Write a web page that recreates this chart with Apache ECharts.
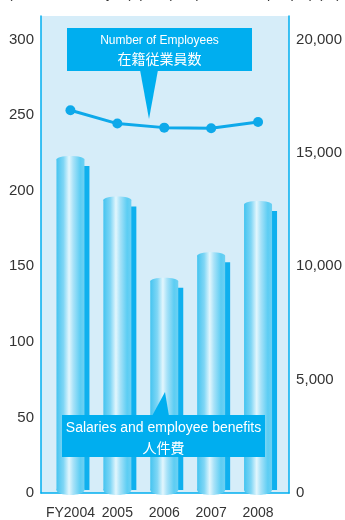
<!DOCTYPE html>
<html><head><meta charset="utf-8">
<script src="https://cdn.jsdelivr.net/npm/echarts@6/dist/echarts.min.js"></script>
<style>html,body{margin:0;padding:0;background:#fff}#c{width:345px;height:520px}</style>
</head><body><div id="c"></div>
<script>
const categories = ['FY2004', '2005', '2006', '2007', '2008'];
const salaries = [220, 193, 139, 156, 190];          // left axis (億円)
const employees = [16850, 16260, 16080, 16050, 16330]; // right axis (人)
const leftTicks = [0, 50, 100, 150, 200, 250, 300];
const rightTicks = [0, 5000, 10000, 15000, 20000];

const LMAX = 315.5, RMAX = LMAX / 300 * 20000;
const blue = '#00aeef';
const sans = '"Liberation Sans",Arial,sans-serif';
const cjk = '"Noto Sans CJK JP",sans-serif';
const fmtNum = v => String(v).replace(/\B(?=(\d{3})+(?!\d))/g, ',');

const chart = echarts.init(document.getElementById('c'), null, {renderer: 'canvas'});
const bodyGrad = new echarts.graphic.LinearGradient(0, 0, 1, 0, [
  {offset: 0, color: '#45c4f0'},
  {offset: 0.25, color: '#7fd6f5'},
  {offset: 0.45, color: '#e2f6fd'},
  {offset: 0.6, color: '#a8e2f8'},
  {offset: 0.85, color: '#5ccdf3'},
  {offset: 1, color: '#6dd1f3'}
]);

chart.setOption({
  animation: false,
  grid: [
    {left: 41, right: 53, top: 16, bottom: 27, show: true, backgroundColor: '#d6edf9', borderWidth: 0, borderColor: 'transparent'},
    {left: 47, right: 63.5, top: 16, bottom: 27}
  ],
  xAxis: [
    {gridIndex: 0, type: 'value', min: 0, max: 1, axisLine: {show: true, lineStyle: {color: blue, width: 1.5}}, axisTick: {show: false}, axisLabel: {show: false}, splitLine: {show: false}},
    {gridIndex: 1, type: 'category', data: categories, axisLine: {show: false}, axisTick: {show: false},
     axisLabel: {interval: 0, hideOverlap: false, margin: 16, color: '#333', fontSize: 14, fontFamily: sans}}
  ],
  yAxis: [
    {gridIndex: 0, type: 'value', min: 0, max: LMAX, interval: 50, position: 'left',
     axisLine: {show: true, lineStyle: {color: blue, width: 1.5}}, axisTick: {show: false}, splitLine: {show: false},
     axisLabel: {margin: 7, padding: [3, 0, 0, 0], color: '#333', fontSize: 15, fontFamily: sans, formatter: v => leftTicks.includes(v) ? String(v) : ''}},
    {gridIndex: 0, type: 'value', min: 0, max: RMAX, interval: 5000, position: 'right',
     axisLine: {show: true, lineStyle: {color: blue, width: 1.5}}, axisTick: {show: false}, splitLine: {show: false},
     axisLabel: {margin: 7, padding: [3, 0, 0, 0], color: '#333', fontSize: 15, fontFamily: sans, formatter: v => rightTicks.includes(v) ? fmtNum(v) : ''}},
    {gridIndex: 1, type: 'value', min: 0, max: LMAX, show: false},
    {gridIndex: 1, type: 'value', min: 0, max: RMAX, show: false}
  ],
  series: [
    {
      type: 'custom', xAxisIndex: 1, yAxisIndex: 2, z: 5,
      data: salaries.map((v, i) => [i, v]),
      renderItem: (params, api) => {
        const top = api.coord([api.value(0), api.value(1)]);
        const base = api.coord([api.value(0), 0]);
        const cx = top[0], ty = top[1], by = base[1];
        const hw = 14, ry = 3.5;
        return {type: 'group', children: [
          {type: 'rect', shape: {x: cx - hw + 5, y: ty - ry + 10, width: 2 * hw, height: by - (ty - ry + 10)}, style: {fill: '#0fb0ee'}},
          {type: 'rect', shape: {x: cx - hw, y: ty, width: 2 * hw, height: by - ty}, style: {fill: bodyGrad}},
          {type: 'ellipse', shape: {cx: cx, cy: by, rx: hw, ry: 5}, style: {fill: bodyGrad}},
          {type: 'ellipse', shape: {cx: cx, cy: ty, rx: hw, ry: ry}, style: {fill: bodyGrad}}
        ]};
      }
    },
    {
      type: 'line', xAxisIndex: 1, yAxisIndex: 3, z: 6, data: employees,
      symbol: 'circle', symbolSize: 10,
      lineStyle: {color: '#0ea9ea', width: 3}, itemStyle: {color: '#0ea9ea'}
    }
  ],
  graphic: [
    {type: 'text', left: 8, top: -13, style: {text: '(100 millions of yen) (億円)', fill: '#333', font: '14px ' + sans}},
    {type: 'text', right: 4, top: -13, style: {text: '(Number of people) (人)', fill: '#333', font: '14px ' + sans}},
    {type: 'polygon', z: 10, shape: {points: [[140, 70], [158, 70], [149, 119]]}, style: {fill: blue}},
    {type: 'rect', z: 10, shape: {x: 67, y: 28, width: 185, height: 43}, style: {fill: blue}},
    {type: 'text', z: 11, x: 159.5, y: 41, style: {text: 'Number of Employees', fill: '#fff', font: '12px ' + sans, align: 'center', verticalAlign: 'middle'}},
    {type: 'text', z: 11, x: 159.5, y: 59, style: {text: '在籍従業員数', fill: '#fff', font: '14px ' + cjk, align: 'center', verticalAlign: 'middle'}},
    {type: 'polygon', z: 10, shape: {points: [[152, 416], [169, 416], [165, 392]]}, style: {fill: blue}},
    {type: 'rect', z: 10, shape: {x: 62, y: 415, width: 203, height: 42}, style: {fill: blue}},
    {type: 'text', z: 11, x: 163.5, y: 428.5, style: {text: 'Salaries and employee benefits', fill: '#fff', font: '14px ' + sans, align: 'center', verticalAlign: 'middle'}},
    {type: 'text', z: 11, x: 163.5, y: 447.5, style: {text: '人件費', fill: '#fff', font: '14px ' + cjk, align: 'center', verticalAlign: 'middle'}}
  ]
});
</script></body></html>
